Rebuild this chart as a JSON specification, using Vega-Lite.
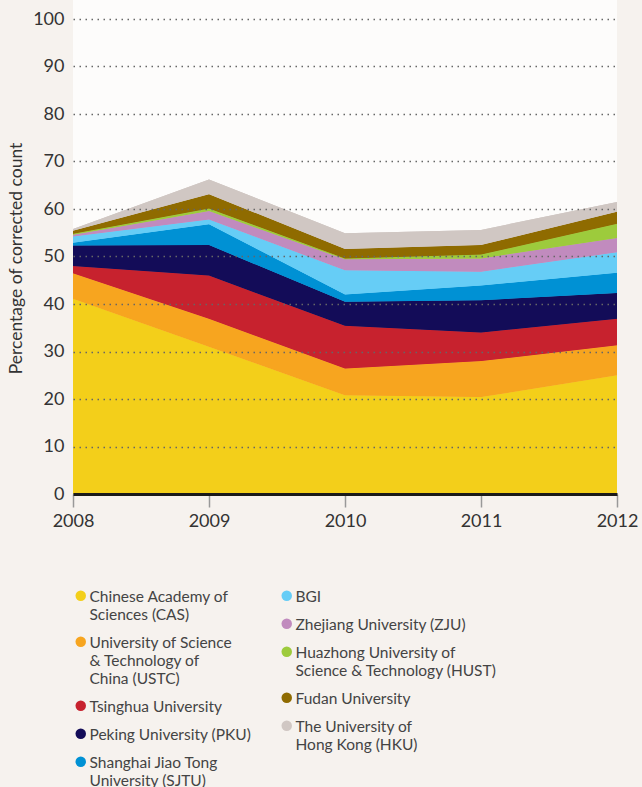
{
  "$schema": "https://vega.github.io/schema/vega-lite/v6.json",
  "autosize": "none",
  "width": 544,
  "height": 494,
  "padding": {"left": 73, "top": 0, "right": 25, "bottom": 293},
  "background": "#f6f2ee",
  "config": {"view": {"fill": "#fdfcfb", "stroke": null}, "font": "Lato"},
  "data": {"values": [
    {"year": 2008, "inst": "Chinese Academy of Sciences (CAS)", "rank": 1, "share": 41.1},
    {"year": 2008, "inst": "University of Science & Technology of China (USTC)", "rank": 2, "share": 5.4},
    {"year": 2008, "inst": "Tsinghua University", "rank": 3, "share": 1.5},
    {"year": 2008, "inst": "Peking University (PKU)", "rank": 4, "share": 4.3},
    {"year": 2008, "inst": "Shanghai Jiao Tong University (SJTU)", "rank": 5, "share": 0.6},
    {"year": 2008, "inst": "BGI", "rank": 6, "share": 1.3},
    {"year": 2008, "inst": "Zhejiang University (ZJU)", "rank": 7, "share": 0.4},
    {"year": 2008, "inst": "Huazhong University of Science & Technology (HUST)", "rank": 8, "share": 0.2},
    {"year": 2008, "inst": "Fudan University", "rank": 9, "share": 0.6},
    {"year": 2008, "inst": "The University of Hong Kong (HKU)", "rank": 10, "share": 0.4},
    {"year": 2009, "inst": "Chinese Academy of Sciences (CAS)", "rank": 1, "share": 31.0},
    {"year": 2009, "inst": "University of Science & Technology of China (USTC)", "rank": 2, "share": 5.9},
    {"year": 2009, "inst": "Tsinghua University", "rank": 3, "share": 9.1},
    {"year": 2009, "inst": "Peking University (PKU)", "rank": 4, "share": 6.4},
    {"year": 2009, "inst": "Shanghai Jiao Tong University (SJTU)", "rank": 5, "share": 4.4},
    {"year": 2009, "inst": "BGI", "rank": 6, "share": 1.0},
    {"year": 2009, "inst": "Zhejiang University (ZJU)", "rank": 7, "share": 1.8},
    {"year": 2009, "inst": "Huazhong University of Science & Technology (HUST)", "rank": 8, "share": 0.5},
    {"year": 2009, "inst": "Fudan University", "rank": 9, "share": 3.0},
    {"year": 2009, "inst": "The University of Hong Kong (HKU)", "rank": 10, "share": 3.1},
    {"year": 2010, "inst": "Chinese Academy of Sciences (CAS)", "rank": 1, "share": 20.8},
    {"year": 2010, "inst": "University of Science & Technology of China (USTC)", "rank": 2, "share": 5.6},
    {"year": 2010, "inst": "Tsinghua University", "rank": 3, "share": 9.0},
    {"year": 2010, "inst": "Peking University (PKU)", "rank": 4, "share": 5.1},
    {"year": 2010, "inst": "Shanghai Jiao Tong University (SJTU)", "rank": 5, "share": 1.5},
    {"year": 2010, "inst": "BGI", "rank": 6, "share": 5.1},
    {"year": 2010, "inst": "Zhejiang University (ZJU)", "rank": 7, "share": 2.3},
    {"year": 2010, "inst": "Huazhong University of Science & Technology (HUST)", "rank": 8, "share": 0.2},
    {"year": 2010, "inst": "Fudan University", "rank": 9, "share": 2.0},
    {"year": 2010, "inst": "The University of Hong Kong (HKU)", "rank": 10, "share": 3.3},
    {"year": 2011, "inst": "Chinese Academy of Sciences (CAS)", "rank": 1, "share": 20.4},
    {"year": 2011, "inst": "University of Science & Technology of China (USTC)", "rank": 2, "share": 7.6},
    {"year": 2011, "inst": "Tsinghua University", "rank": 3, "share": 6.0},
    {"year": 2011, "inst": "Peking University (PKU)", "rank": 4, "share": 6.8},
    {"year": 2011, "inst": "Shanghai Jiao Tong University (SJTU)", "rank": 5, "share": 3.1},
    {"year": 2011, "inst": "BGI", "rank": 6, "share": 2.9},
    {"year": 2011, "inst": "Zhejiang University (ZJU)", "rank": 7, "share": 2.8},
    {"year": 2011, "inst": "Huazhong University of Science & Technology (HUST)", "rank": 8, "share": 0.8},
    {"year": 2011, "inst": "Fudan University", "rank": 9, "share": 2.0},
    {"year": 2011, "inst": "The University of Hong Kong (HKU)", "rank": 10, "share": 3.2},
    {"year": 2012, "inst": "Chinese Academy of Sciences (CAS)", "rank": 1, "share": 25.0},
    {"year": 2012, "inst": "University of Science & Technology of China (USTC)", "rank": 2, "share": 6.3},
    {"year": 2012, "inst": "Tsinghua University", "rank": 3, "share": 5.6},
    {"year": 2012, "inst": "Peking University (PKU)", "rank": 4, "share": 5.4},
    {"year": 2012, "inst": "Shanghai Jiao Tong University (SJTU)", "rank": 5, "share": 4.3},
    {"year": 2012, "inst": "BGI", "rank": 6, "share": 4.3},
    {"year": 2012, "inst": "Zhejiang University (ZJU)", "rank": 7, "share": 3.0},
    {"year": 2012, "inst": "Huazhong University of Science & Technology (HUST)", "rank": 8, "share": 3.0},
    {"year": 2012, "inst": "Fudan University", "rank": 9, "share": 2.5},
    {"year": 2012, "inst": "The University of Hong Kong (HKU)", "rank": 10, "share": 2.1}
  ]},
  "encoding": {
    "x": {
      "field": "year", "type": "quantitative",
      "scale": {"domain": [2008, 2012], "nice": false, "zero": false},
      "axis": {
        "values": [2008, 2009, 2010, 2011, 2012], "format": "d", "title": null,
        "labelFontSize": 18, "labelColor": "#333", "labelFlush": false, "labelPadding": 5,
        "domainColor": "#1a1a1a", "domainWidth": 3, "tickColor": "#999", "tickWidth": 1.5,
        "tickSize": 13, "grid": false, "zindex": 1
      }
    },
    "y": {
      "field": "share", "type": "quantitative", "stack": "zero",
      "scale": {"domain": [0, 104], "nice": false},
      "axis": {
        "values": [0, 10, 20, 30, 40, 50, 60, 70, 80, 90, 100],
        "title": "Percentage of corrected count", "titleFontSize": 17.5, "titleFontWeight": "normal",
        "titleColor": "#333", "titlePadding": 7, "titleY": 258,
        "labelFontSize": 18, "labelColor": "#333", "labelPadding": 9,
        "ticks": false, "domain": false, "grid": true, "gridColor": "#666",
        "gridDash": [1.5, 4.5], "gridWidth": 1.3, "zindex": 1
      }
    },
    "order": {"field": "rank", "type": "quantitative"}
  },
  "layer": [
    {
      "mark": {"type": "area", "interpolate": "linear"},
      "encoding": {
        "color": {
          "field": "inst", "type": "nominal",
          "scale": {
            "domain": ["Chinese Academy of Sciences (CAS)", "University of Science & Technology of China (USTC)", "Tsinghua University", "Peking University (PKU)", "Shanghai Jiao Tong University (SJTU)", "BGI", "Zhejiang University (ZJU)", "Huazhong University of Science & Technology (HUST)", "Fudan University", "The University of Hong Kong (HKU)"],
            "range": ["#f3cf1a", "#f7a51f", "#c7222e", "#130c58", "#0091d4", "#66cdf6", "#c18bbe", "#9dcb3c", "#8f6b00", "#d0c7c3"]
          },
          "legend": {
            "orient": "none", "legendX": 0, "legendY": 588, "title": null, "padding": 0,
            "values": ["Chinese Academy of Sciences (CAS)", "University of Science & Technology of China (USTC)", "Tsinghua University", "Peking University (PKU)", "Shanghai Jiao Tong University (SJTU)"],
            "symbolType": "circle", "symbolSize": 110, "symbolStrokeWidth": 0, "symbolOpacity": 1,
            "labelFontSize": 15.5, "labelColor": "#444", "labelLimit": 300, "labelOffset": 1,
            "rowPadding": 10, "labelBaseline": "top",
            "encode": {"labels": {"update": {"lineHeight": {"value": 18}, "dy": {"value": -6}}}},
            "labelExpr": "datum.label == 'Chinese Academy of Sciences (CAS)' ? ['Chinese Academy of', 'Sciences (CAS)'] : datum.label == 'University of Science & Technology of China (USTC)' ? ['University of Science', '& Technology of', 'China (USTC)'] : datum.label == 'Shanghai Jiao Tong University (SJTU)' ? ['Shanghai Jiao Tong', 'University (SJTU)'] : datum.label"
          }
        }
      }
    },
    {
      "mark": {"type": "area", "interpolate": "linear"},
      "encoding": {
        "fill": {
          "field": "inst", "type": "nominal",
          "scale": {
            "domain": ["BGI", "Zhejiang University (ZJU)", "Huazhong University of Science & Technology (HUST)", "Fudan University", "The University of Hong Kong (HKU)", "Chinese Academy of Sciences (CAS)", "University of Science & Technology of China (USTC)", "Tsinghua University", "Peking University (PKU)", "Shanghai Jiao Tong University (SJTU)"],
            "range": ["#66cdf6", "#c18bbe", "#9dcb3c", "#8f6b00", "#d0c7c3", "#f3cf1a", "#f7a51f", "#c7222e", "#130c58", "#0091d4"]
          },
          "legend": {
            "orient": "none", "legendX": 206, "legendY": 588, "title": null, "padding": 0,
            "values": ["BGI", "Zhejiang University (ZJU)", "Huazhong University of Science & Technology (HUST)", "Fudan University", "The University of Hong Kong (HKU)"],
            "symbolType": "circle", "symbolSize": 110, "symbolStrokeWidth": 0, "symbolOpacity": 1,
            "labelFontSize": 15.5, "labelColor": "#444", "labelLimit": 300, "labelOffset": 1,
            "rowPadding": 10, "labelBaseline": "top",
            "encode": {"labels": {"update": {"lineHeight": {"value": 18}, "dy": {"value": -6}}}},
            "labelExpr": "datum.label == 'Huazhong University of Science & Technology (HUST)' ? ['Huazhong University of', 'Science & Technology (HUST)'] : datum.label == 'The University of Hong Kong (HKU)' ? ['The University of', 'Hong Kong (HKU)'] : datum.label"
          }
        }
      }
    }
  ]
}
